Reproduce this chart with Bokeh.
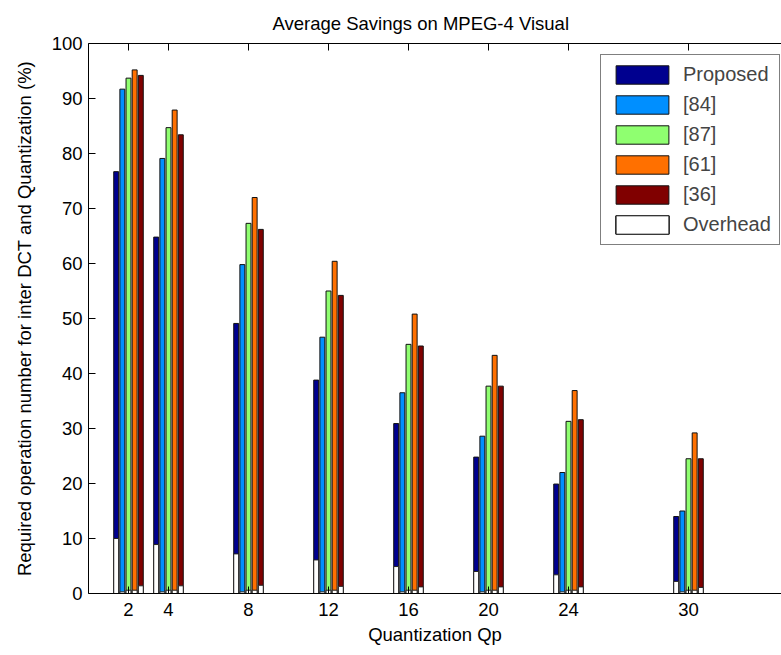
from bokeh.plotting import figure
from bokeh.models import (ColumnDataSource, Range1d, LinearAxis, FixedTicker,
                          CustomLabelingPolicy)
from bokeh.transform import dodge
from bokeh.embed import file_html
from bokeh.resources import INLINE

# ---- data ----
qp = [2, 4, 8, 12, 16, 20, 24, 30]
proposed = [76.7, 64.8, 49.1, 38.8, 30.9, 24.8, 19.9, 14.0]
ref84 = [91.7, 79.1, 59.8, 46.6, 36.5, 28.6, 22.0, 15.0]
ref87 = [93.7, 84.7, 67.3, 55.0, 45.3, 37.7, 31.3, 24.5]
ref61 = [95.2, 87.9, 72.0, 60.4, 50.8, 43.3, 36.9, 29.2]
ref36 = [94.2, 83.4, 66.2, 54.2, 45.0, 37.7, 31.6, 24.5]
ov_proposed = [10.0, 8.9, 7.2, 6.1, 4.9, 4.0, 3.4, 2.2]
ov_84 = [0.3, 0.3, 0.3, 0.3, 0.3, 0.3, 0.3, 0.3]
ov_87 = [0.6, 0.6, 0.6, 0.6, 0.6, 0.6, 0.6, 0.6]
ov_61 = [0.6, 0.6, 0.6, 0.6, 0.6, 0.6, 0.6, 0.6]
ov_36 = [1.4, 1.4, 1.5, 1.3, 1.2, 1.2, 1.2, 1.1]
series_names = ["Proposed", "[84]", "[87]", "[61]", "[36]"]
y_ticks = [0, 10, 20, 30, 40, 50, 60, 70, 80, 90, 100]
title_text = "Average Savings on MPEG-4 Visual"

src = ColumnDataSource(dict(
    qp=qp, s0=proposed, s1=ref84, s2=ref87, s3=ref61, s4=ref36,
    o0=ov_proposed, o1=ov_84, o2=ov_87, o3=ov_61, o4=ov_36,
))

colors = ["#00008F", "#008FFF", "#8FFF70", "#FF7000", "#800000"]
FONT = "Liberation Sans"

p = figure(width=781, height=655, output_backend="svg", toolbar_location=None,
           x_range=Range1d(0, 34.65), y_range=Range1d(0, 100),
           min_border_left=88, min_border_right=0, min_border_top=42,
           min_border_bottom=62)
p.outline_line_color = None
p.background_fill_color = "white"
p.border_fill_color = "white"
p.xgrid.visible = False
p.ygrid.visible = False

n = len(series_names)
group_w = 2 * min(0.8, n / (n + 1.5))
step = group_w / n
bar_w = step * 0.8
offsets = [(i - (n - 1) / 2) * step for i in range(n)]

for i, name in enumerate(series_names):
    p.vbar(x=dodge("qp", offsets[i]), top="s%d" % i, width=bar_w, bottom=0,
           source=src, fill_color=colors[i], line_color="#111111",
           line_width=1, legend_label=name)
for i in range(n):
    p.vbar(x=dodge("qp", offsets[i]), top="o%d" % i, width=bar_w, bottom=0,
           source=src, fill_color="white", line_color="#222222",
           line_width=1, legend_label="Overhead")

# axes
for ax in (p.xaxis[0], p.yaxis[0]):
    ax.major_tick_in = 7
    ax.major_tick_out = 0
    ax.minor_tick_line_color = None
    ax.axis_line_color = "black"
    ax.major_tick_line_color = "black"
    ax.major_label_text_font = FONT
    ax.major_label_text_font_size = "18.5px"
    ax.major_label_text_color = "black"
    ax.axis_label_text_font = FONT
    ax.axis_label_text_font_size = "18.5px"
    ax.axis_label_text_font_style = "normal"
    ax.axis_label_text_color = "black"

p.xaxis.ticker = FixedTicker(ticks=qp)
p.yaxis.ticker = FixedTicker(ticks=y_ticks)
p.xaxis.axis_label = "Quantization Qp"
p.yaxis.axis_label = "Required operation number for inter DCT and Quantization (%)"
p.xaxis.major_label_standoff = 9
p.xaxis.axis_label_standoff = 5
p.yaxis.major_label_standoff = 6
p.yaxis.axis_label_standoff = 14

hide_all = CustomLabelingPolicy(code="""
const r = indices;
if (typeof r.unset === 'function') {
  for (const i of Array.from(r)) { r.unset(i) }
} else if (typeof r.clear === 'function') {
  r.clear()
}
return r
""")
top_ax = LinearAxis(ticker=FixedTicker(ticks=qp), major_tick_in=7, major_tick_out=0,
                    minor_tick_line_color=None, major_label_text_font_size="0px",
                    major_label_standoff=0, axis_line_color="black",
                    major_label_policy=hide_all)
p.add_layout(top_ax, "above")

p.title.text = title_text
p.title.text_font = FONT
p.title.text_font_size = "18.5px"
p.title.text_font_style = "normal"
p.title.text_color = "black"
p.title.align = "left"
p.title.offset = 184
p.title.standoff = 20

leg = p.legend[0]
leg.location = (512, 348)
leg.glyph_width = 66
leg.glyph_height = 23
leg.spacing = 7
leg.padding = 8
leg.margin = 0
leg.label_standoff = 8
leg.label_text_font = FONT
leg.label_text_font_size = "20px"
leg.border_line_color = "black"
leg.border_line_width = 1
leg.background_fill_alpha = 1.0

open("out.html", "w").write(file_html(p, INLINE))
